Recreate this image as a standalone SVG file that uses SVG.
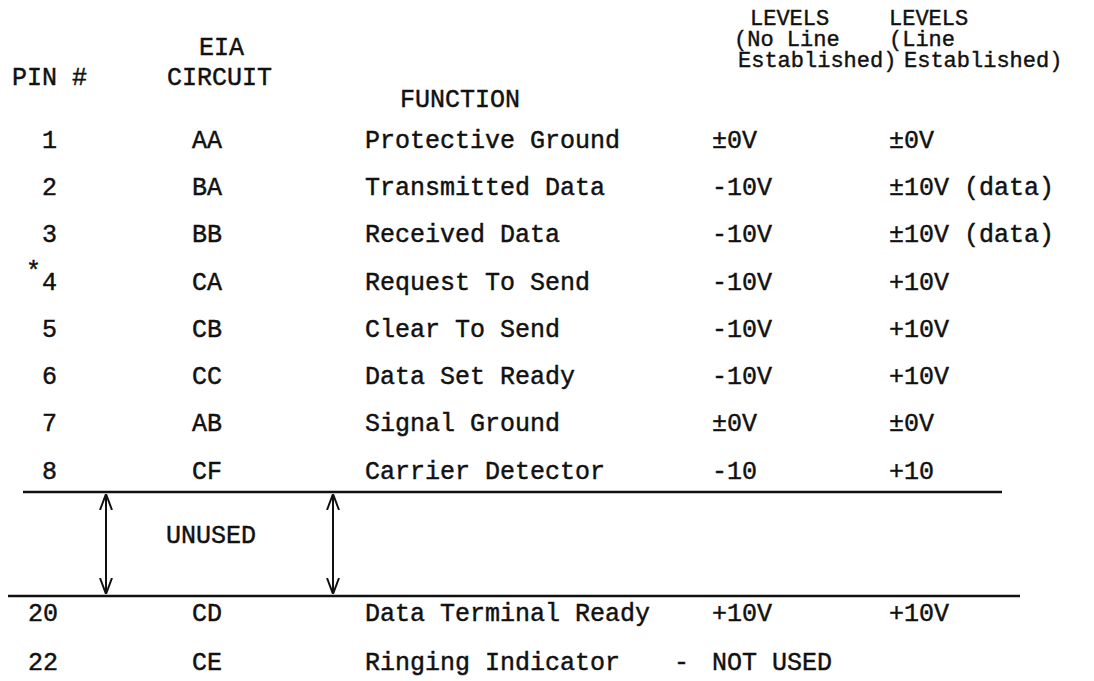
<svg xmlns="http://www.w3.org/2000/svg" width="1094" height="681" viewBox="0 0 1094 681">
<style>
.t{font-family:"Liberation Mono","DejaVu Sans Mono",monospace;font-size:25px;fill:#111;stroke:#111;stroke-width:0.45}
.h{font-size:22px;stroke-width:0.4}
.rule{stroke:#111;stroke-width:2.5;fill:none}
.arw{stroke:#111;stroke-width:2;fill:none;marker-start:url(#v);marker-end:url(#v)}
</style>
<defs>
<marker id="v" viewBox="0 0 16 14" refX="16" refY="7" markerWidth="16" markerHeight="14" markerUnits="userSpaceOnUse" orient="auto-start-reverse">
<path d="M0,1 L16,7 L0,13" fill="none" stroke="#111" stroke-width="2"/>
</marker>
</defs>
<rect width="1094" height="681" fill="#fff"/>
<g id="header" class="t">
<text x="12" y="85">PIN #</text>
<text x="199" y="55">EIA</text>
<text x="167" y="85">CIRCUIT</text>
<text x="400" y="107">FUNCTION</text>
<text class="h" x="750" y="25">LEVELS</text>
<text class="h" x="734" y="46">(No Line</text>
<text class="h" x="738" y="67">Established)</text>
<text class="h" x="889" y="25">LEVELS</text>
<text class="h" x="889" y="46">(Line</text>
<text class="h" x="904" y="67">Established)</text>
</g>
<g id="row1" class="t"><text x="42" y="148">1</text><text x="192" y="148">AA</text><text x="365" y="148">Protective Ground</text><text x="712" y="148">±0V</text><text x="889" y="148">±0V</text></g>
<g id="row2" class="t"><text x="42" y="195">2</text><text x="192" y="195">BA</text><text x="365" y="195">Transmitted Data</text><text x="712" y="195">-10V</text><text x="889" y="195">±10V (data)</text></g>
<g id="row3" class="t"><text x="42" y="242">3</text><text x="192" y="242">BB</text><text x="365" y="242">Received Data</text><text x="712" y="242">-10V</text><text x="889" y="242">±10V (data)</text></g>
<g id="row4" class="t"><text x="26" y="279">*</text><text x="42" y="290">4</text><text x="192" y="290">CA</text><text x="365" y="290">Request To Send</text><text x="712" y="290">-10V</text><text x="889" y="290">+10V</text></g>
<g id="row5" class="t"><text x="42" y="337">5</text><text x="192" y="337">CB</text><text x="365" y="337">Clear To Send</text><text x="712" y="337">-10V</text><text x="889" y="337">+10V</text></g>
<g id="row6" class="t"><text x="42" y="384">6</text><text x="192" y="384">CC</text><text x="365" y="384">Data Set Ready</text><text x="712" y="384">-10V</text><text x="889" y="384">+10V</text></g>
<g id="row7" class="t"><text x="42" y="431">7</text><text x="192" y="431">AB</text><text x="365" y="431">Signal Ground</text><text x="712" y="431">±0V</text><text x="889" y="431">±0V</text></g>
<g id="row8" class="t"><text x="42" y="479">8</text><text x="192" y="479">CF</text><text x="365" y="479">Carrier Detector</text><text x="712" y="479">-10</text><text x="889" y="479">+10</text></g>
<g id="unused" class="t"><text x="166" y="543">UNUSED</text></g>
<g id="row20" class="t"><text x="28" y="621">20</text><text x="192" y="621">CD</text><text x="365" y="621">Data Terminal Ready</text><text x="712" y="621">+10V</text><text x="889" y="621">+10V</text></g>
<g id="row22" class="t"><text x="28" y="670">22</text><text x="192" y="670">CE</text><text x="365" y="670">Ringing Indicator</text><text x="674" y="670">-</text><text x="712" y="670">NOT USED</text></g>
<g id="rules">
<line class="rule" x1="23" y1="492" x2="1002" y2="492"/>
<line class="rule" x1="8" y1="596" x2="1020" y2="596"/>
</g>
<g id="connectors">
<line class="arw" x1="106" y1="494" x2="106" y2="594"/>
<line class="arw" x1="333" y1="494" x2="333" y2="594"/>
</g>
</svg>
